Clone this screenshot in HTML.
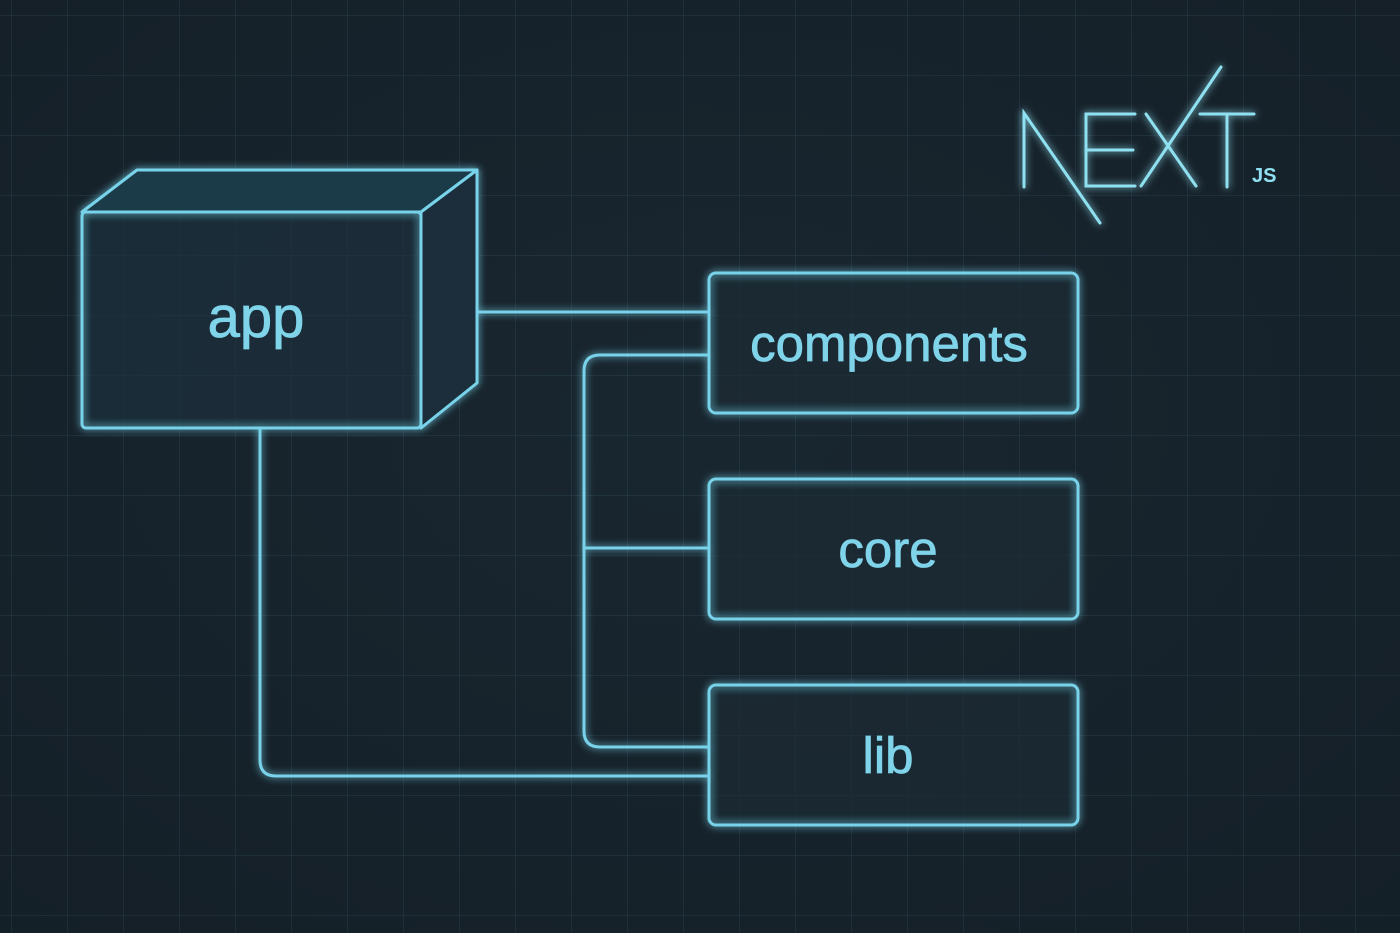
<!DOCTYPE html>
<html><head><meta charset="utf-8"><style>
html,body{margin:0;padding:0;background:#17232c;}
svg{display:block}
</style></head><body>
<svg width="1400" height="933" viewBox="0 0 1400 933" xmlns="http://www.w3.org/2000/svg">
<defs>
<pattern id="g" x="11" y="15" width="56" height="60" patternUnits="userSpaceOnUse">
<path d="M0 0V60M0 0H56" stroke="#2a4351" stroke-width="1.5" fill="none"/>
</pattern>
<radialGradient id="v" cx="50%" cy="45%" r="75%"><stop offset="0" stop-color="#1b2b35" stop-opacity="0.4"/><stop offset="1" stop-color="#111b22" stop-opacity="0.45"/></radialGradient>
<filter id="glow" x="-20%" y="-20%" width="140%" height="140%"><feGaussianBlur stdDeviation="4" result="b"/><feMerge><feMergeNode in="b"/><feMergeNode in="SourceGraphic"/></feMerge></filter>
</defs>
<rect width="1400" height="933" fill="#17232c"/>
<rect width="1400" height="933" fill="url(#g)"/>
<rect width="1400" height="933" fill="url(#v)"/>
<g fill="none" stroke="#78d3ea" stroke-width="3" stroke-linejoin="round" filter="url(#glow)">
<path d="M477 312H709"/>
<path d="M709 355H600Q584 355 584 371V731Q584 747 600 747H709"/>
<path d="M584 548H709"/>
<path d="M260 428V760Q260 776 276 776H709"/>
<path d="M137 170H477L421 212H82Z" fill="#1c3a4a"/>
<path d="M421 212L477 170V383L421 428Z" fill="#1a2f3b"/>
<rect x="82" y="212" width="339" height="216" rx="4" fill="#18303d" fill-opacity="0.4"/>
<rect x="709" y="273" width="369" height="140" rx="7" fill="#1b2c37" fill-opacity="0.4"/>
<rect x="709" y="479" width="369" height="140" rx="7" fill="#1b2c37" fill-opacity="0.4"/>
<rect x="709" y="685" width="369" height="140" rx="7" fill="#1b2c37" fill-opacity="0.4"/>
</g>
<g font-family="Liberation Sans, sans-serif" fill="#7fd4ea" stroke="#7fd4ea" stroke-width="0.8" text-anchor="middle">
<text x="256" y="337" font-size="58">app</text>
<text x="889" y="361" font-size="51">components</text>
<text x="888" y="567" font-size="51">core</text>
<text x="888" y="773" font-size="51">lib</text>
</g>
<g stroke="#8fe0f0" stroke-width="3" fill="none" stroke-linecap="round" filter="url(#glow)">
<path d="M1024 187V113L1100 223"/>
<path d="M1135 114H1086V186H1135M1086 150H1133"/>
<path d="M1141 186L1221 67"/>
<path d="M1146 114L1196 186"/>
<path d="M1200 114H1254M1227 114V187"/>
</g>
<text x="1252" y="182" font-family="Liberation Sans, sans-serif" font-weight="bold" font-size="20" fill="#8fe0f0">JS</text>
</svg>
</body></html>
